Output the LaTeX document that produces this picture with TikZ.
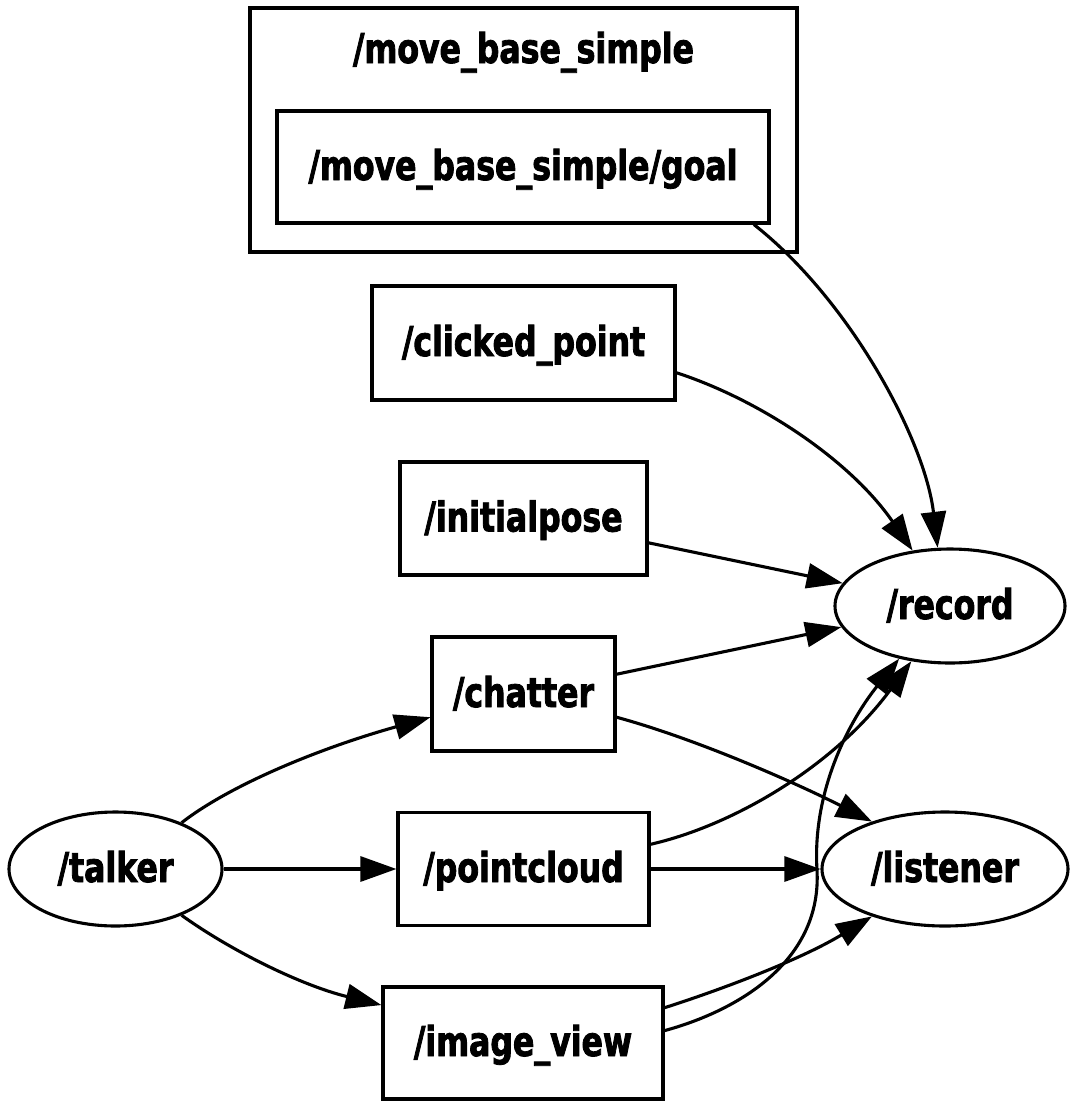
\documentclass[tikz,border=0pt]{standalone}
\usepackage{fontspec}
\newfontfamily\lbl{DejaVu Sans}[FakeStretch=0.77, FakeBold=2]
\usetikzlibrary{arrows.meta,shapes.geometric}
\begin{document}
\begin{tikzpicture}[x=1pt,y=-1pt,
  every node/.style={font=\lbl\bfseries\fontsize{41}{48}\selectfont,
    text height=26pt, text depth=0pt, inner sep=0pt, line width=3.1pt},
  topic/.style={draw, rectangle, minimum height=113pt},
  proc/.style={draw, ellipse, minimum height=114pt},
  conn/.style={line width=3.1pt, -{Triangle[length=36pt,width=25pt]}}]
\useasboundingbox (0,0) rectangle (1075,1101);
% cluster
\node[draw, rectangle, minimum width=547pt, minimum height=244pt] (cluster) at (523.5,130) {};
\node (ctitle) at (523.5,50) {/move\_base\_simple};
% topics
\node[topic, minimum width=492pt, minimum height=112pt] (goal) at (523,167) {/move\_base\_simple/goal};
\node[topic, minimum width=303pt, minimum height=114pt] (clicked) at (523.5,343) {/clicked\_point};
\node[topic, minimum width=247pt] (initialpose) at (523.5,518.5) {/initialpose};
\node[topic, minimum width=183pt, minimum height=114pt] (chatter) at (523.5,694) {/chatter};
\node[topic, minimum width=251pt] (pointcloud) at (523.5,869) {/pointcloud};
\node[topic, minimum width=280pt, minimum height=112pt] (image) at (523,1043) {/image\_view};
% processes
\node[proc, minimum width=213pt] (talker) at (115.5,869) {/talker};
\node[proc, minimum width=230pt] (record) at (950,606) {/record};
\node[proc, minimum width=246pt] (listener) at (945,869) {/listener};
\coordinate (bend) at (817,870);
% connectors
\draw[conn] (goal.-14.5) .. controls (850,300) and (925,440) .. (record.102);
\draw[conn] (clicked.-11.2) .. controls (760,400) and (850,460) .. (record.124);
\draw[conn] (initialpose.-11.2) -- (record.168);
\draw[conn] (chatter.12.3) -- (record.191.5);
\draw[conn] (chatter.-14.7) .. controls (700,740) and (800,785) .. (listener.147.4);
\draw[conn] (talker.35.3) .. controls (230,785) and (320,748) .. (chatter.194.7);
\draw[conn] (talker.east) -- (pointcloud.west);
\draw[conn] (talker.-35.3) .. controls (230,950) and (300,985) .. (image.165.6);
\draw[conn] (pointcloud.11.7) .. controls (735,825) and (835,765) .. (record.235.8);
\draw[conn] (pointcloud.east) -- (listener.west);
\draw[conn] (image.14.8) .. controls (720,990) and (800,960) .. (listener.213.1);
\draw[conn] (image.5.7) .. controls (740,1010) and (822,960) .. (bend) .. controls (812,790) and (850,720) .. (record.226);
\end{tikzpicture}
\end{document}
